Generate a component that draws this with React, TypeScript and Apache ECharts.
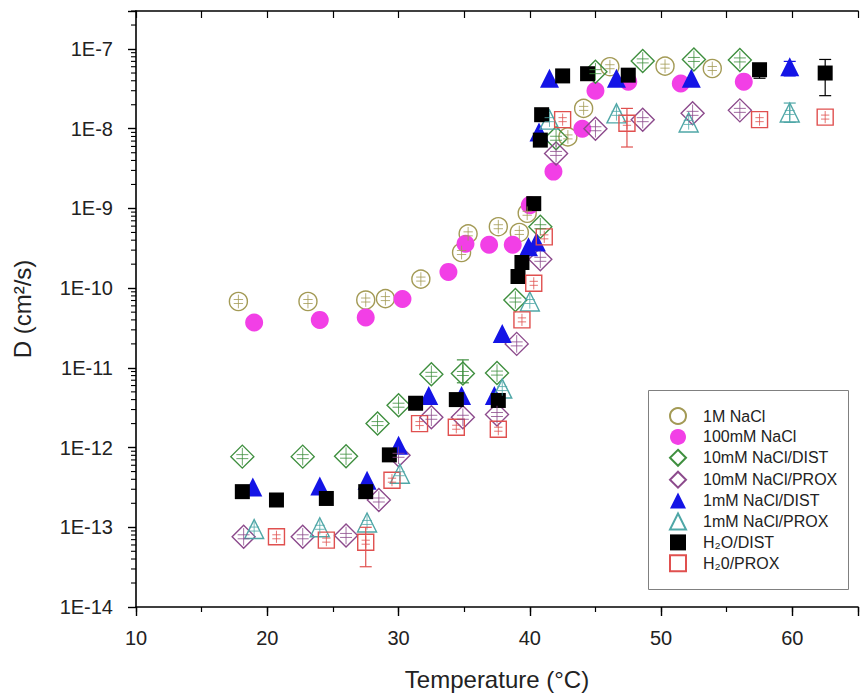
import React, { useEffect, useRef } from 'react';
import * as echarts from 'echarts';

// ---------- data ----------
const seriesNames = [
  '1M NaCl',
  '100mM NaCl',
  '10mM NaCl/DIST',
  '10mM NaCl/PROX',
  '1mM NaCl/DIST',
  '1mM NaCl/PROX',
  'H₂O/DIST',
  'H₂0/PROX',
];

const nacl1M: [number, number][] = [
  [17.8, 6.8e-11], [23.1, 6.8e-11], [27.5, 7.1e-11], [29.0, 7.4e-11], [31.7, 1.3e-10],
  [34.8, 2.8e-10], [35.3, 4.8e-10], [37.6, 5.9e-10], [39.2, 5.0e-10], [39.8, 8.7e-10],
  [42.9, 7.9e-9], [44.1, 1.8e-8], [46.1, 6.0e-8], [50.3, 6.1e-8], [53.9, 5.7e-8],
];
const nacl100mM: [number, number][] = [
  [19.0, 3.7e-11], [24.0, 4.0e-11], [27.5, 4.3e-11], [30.3, 7.3e-11], [33.8, 1.6e-10],
  [35.1, 3.6e-10], [36.9, 3.5e-10], [38.7, 3.5e-10], [40.0, 1.1e-9], [41.8, 2.9e-9],
  [44.0, 1.0e-8], [45.0, 3.0e-8], [47.5, 3.9e-8], [51.5, 3.7e-8], [56.3, 3.9e-8],
];
const nacl10mMDist: [number, number][] = [
  [18.1, 7.7e-13], [22.7, 7.7e-13], [26.0, 7.8e-13], [28.4, 2.0e-12], [30.0, 3.4e-12],
  [32.5, 8.3e-12], [34.9, 8.5e-12], [37.5, 8.6e-12], [38.9, 7.1e-11], [40.8, 5.9e-10],
  [42.0, 7.6e-9], [45.0, 5.2e-8], [48.6, 7.1e-8], [52.5, 7.4e-8], [56.0, 7.3e-8],
];
const nacl10mMProx: [number, number][] = [
  [18.2, 7.6e-14], [22.7, 7.6e-14], [26.0, 7.9e-14], [28.5, 2.2e-13], [30.0, 8.0e-13],
  [32.5, 2.4e-12], [34.9, 2.4e-12], [37.5, 2.6e-12], [39.0, 2.0e-11], [40.8, 2.3e-10],
  [42.0, 4.9e-9], [45.0, 1.0e-8], [48.6, 1.3e-8], [52.4, 1.56e-8], [56.0, 1.7e-8],
];
const nacl1mMDist: [number, number][] = [
  [18.9, 3.2e-13], [24.0, 3.3e-13], [27.6, 3.9e-13], [30.0, 1.07e-12], [32.3, 4.5e-12],
  [34.8, 4.5e-12], [37.3, 4.5e-12], [37.9, 2.7e-11], [39.9, 3.3e-10], [40.5, 3.8e-10],
  [40.7, 9.1e-9], [41.5, 4.3e-8], [46.6, 4.3e-8], [52.3, 4.3e-8], [59.8, 6.0e-8],
];
const nacl1mMProx: [number, number][] = [
  [19.0, 9.5e-14], [24.0, 1.0e-13], [27.6, 1.15e-13], [30.1, 4.7e-13], [37.9, 5.5e-12],
  [40.0, 6.8e-11], [41.5, 1.3e-8], [46.6, 1.56e-8], [52.1, 1.2e-8], [59.8, 1.6e-8],
];
const h2oDist: [number, number][] = [
  [18.1, 2.8e-13], [20.7, 2.2e-13], [24.5, 2.3e-13], [27.5, 2.8e-13], [29.3, 8.1e-13],
  [31.3, 3.6e-12], [34.4, 4.0e-12], [37.6, 3.9e-12], [39.1, 1.4e-10], [39.4, 2.1e-10],
  [40.3, 1.15e-9], [40.8, 7.2e-9], [40.9, 1.5e-8], [42.5, 4.6e-8], [44.4, 4.9e-8],
  [47.5, 4.7e-8], [57.5, 5.5e-8], [62.5, 5.0e-8],
];
const h2oProx: [number, number][] = [
  [20.7, 7.6e-14], [24.5, 6.9e-14], [27.5, 6.5e-14], [29.5, 3.9e-13], [31.6, 2.0e-12],
  [34.4, 1.8e-12], [37.6, 1.7e-12], [39.4, 4.0e-11], [40.3, 1.15e-10], [41.1, 4.4e-10],
  [42.5, 1.3e-8], [47.4, 1.17e-8], [57.5, 1.3e-8], [62.5, 1.4e-8],
];

// visible error bars: [temperature, low, high, series index]
const errorBars: [number, number, number, number][] = [
  [27.5, 3.2e-14, 1.0e-13, 7],
  [47.4, 5.9e-9, 1.8e-8, 7],
  [62.5, 2.6e-8, 7.4e-8, 6],
  [57.5, 4.3e-8, 6.5e-8, 6],
  [34.9, 6.5e-12, 1.26e-11, 2],
  [59.8, 1.2e-8, 2.1e-8, 5],
  [59.8, 4.6e-8, 7.0e-8, 4],
];

const xTickLabels = [10, 20, 30, 40, 50, 60];

// ---------- styles ----------
const allData = [nacl1M, nacl100mM, nacl10mMDist, nacl10mMProx, nacl1mMDist, nacl1mMProx, h2oDist, h2oProx];
const styles = [
  { symbol: 'circle', size: 18, color: '#a39a55', hollow: true },
  { symbol: 'circle', size: 18, color: '#f23fe6', hollow: false },
  { symbol: 'diamond', size: 23, color: '#3f8f3f', hollow: true },
  { symbol: 'diamond', size: 23, color: '#8c4a8c', hollow: true },
  { symbol: 'triangle', size: 19, color: '#1414e6', hollow: false },
  { symbol: 'triangle', size: 19, color: '#4fa7a7', hollow: true },
  { symbol: 'rect', size: 15, color: '#000000', hollow: false },
  { symbol: 'rect', size: 16, color: '#e0504f', hollow: true },
];

const FONT = '"Liberation Sans", Arial, sans-serif';

export default function App() {
  const ref = useRef<HTMLDivElement>(null);
  useEffect(() => {
    if (!ref.current) return;
    const chart = echarts.init(ref.current, undefined, { renderer: 'svg' });

    const scatterSeries = allData.map((d, i) => {
      const s = styles[i];
      return {
        type: 'scatter',
        name: seriesNames[i],
        data: d,
        symbol: s.symbol,
        symbolSize: s.size,
        z: 3,
        itemStyle: s.hollow
          ? { color: 'rgba(255,255,255,0)', borderColor: s.color, borderWidth: 1.4, opacity: 1 }
          : { color: s.color, borderColor: s.color, borderWidth: 0, opacity: 1 },
      };
    });

    const crossSeries = allData
      .map((d, i) => ({ d, i }))
      .filter(({ i }) => styles[i].hollow)
      .map(({ d, i }) => ({
        type: 'custom',
        name: 'cross-' + i,
        data: d,
        encode: { x: 0, y: 1 },
        z: 4,
        silent: true,
        renderItem: (_p: any, api: any) => {
          const p = api.coord([api.value(0), api.value(1)]);
          const h = styles[i].size * 0.38;
          const w = styles[i].size * 0.26;
          const st = { stroke: styles[i].color, lineWidth: 0.8 };
          return {
            type: 'group',
            children: [
              { type: 'line', shape: { x1: p[0], y1: p[1] - h, x2: p[0], y2: p[1] + h }, style: st },
              { type: 'line', shape: { x1: p[0] - w, y1: p[1] - 2, x2: p[0] + w, y2: p[1] - 2 }, style: st },
              { type: 'line', shape: { x1: p[0] - w, y1: p[1] + 2, x2: p[0] + w, y2: p[1] + 2 }, style: st },
            ],
          };
        },
      }));

    const errSeries = {
      type: 'custom',
      name: 'errorbars',
      data: errorBars,
      encode: { x: 0, y: [1, 2] },
      z: 5,
      silent: true,
      renderItem: (_p: any, api: any) => {
        const x = api.value(0);
        const lo = api.coord([x, api.value(1)]);
        const hi = api.coord([x, api.value(2)]);
        const c = styles[api.value(3)].color;
        const st = { stroke: c, lineWidth: 1.2 };
        return {
          type: 'group',
          children: [
            { type: 'line', shape: { x1: lo[0], y1: lo[1], x2: hi[0], y2: hi[1] }, style: st },
            { type: 'line', shape: { x1: lo[0] - 6, y1: lo[1], x2: lo[0] + 6, y2: lo[1] }, style: st },
            { type: 'line', shape: { x1: hi[0] - 6, y1: hi[1], x2: hi[0] + 6, y2: hi[1] }, style: st },
          ],
        };
      },
    };

    // log minor ticks on the left axis (2..9 x 10^k)
    const minorVals: [number, number][] = [];
    for (let k = -14; k <= -7; k++) {
      for (let m = 2; m <= 9; m++) {
        const v = m * Math.pow(10, k);
        if (v <= 3e-7) minorVals.push([10, v]);
      }
    }
    const minorTickSeries = {
      type: 'custom',
      name: 'minor-ticks',
      data: minorVals,
      encode: { x: 0, y: 1 },
      silent: true,
      z: 6,
      renderItem: (_p: any, api: any) => {
        const p = api.coord([api.value(0), api.value(1)]);
        return {
          type: 'line',
          shape: { x1: p[0] - 5, y1: p[1], x2: p[0], y2: p[1] },
          style: { stroke: '#000', lineWidth: 1.1 },
        };
      },
    };

    const axisLine = { show: true, onZero: false, lineStyle: { color: '#000', width: 1.6 } };

    chart.setOption({
      animation: false,
      backgroundColor: '#fff',
      grid: { left: 136, right: -11, top: 11, bottom: 90, containLabel: false },
      graphic: [
        {
          type: 'rect',
          left: 648,
          top: 390,
          shape: { width: 200, height: 199 },
          style: { fill: '#fff', stroke: '#808080', lineWidth: 1 },
          z: 5,
          silent: true,
        },
      ],
      xAxis: [
        {
          type: 'value', min: 10, max: 65, interval: 10, position: 'bottom',
          axisLine,
          axisTick: { show: true, inside: false, length: 9, lineStyle: { color: '#000', width: 1.4 } },
          axisLabel: {
            fontSize: 20, margin: 21, color: '#222', fontFamily: FONT,
            formatter: (v: number) => (xTickLabels.includes(v) ? String(v) : ''),
          },
          splitLine: { show: false },
          name: 'Temperature (°C)', nameLocation: 'middle', nameGap: 60,
          nameTextStyle: { fontSize: 24, color: '#222', fontFamily: FONT },
        },
        {
          type: 'value', min: 10, max: 65, interval: 5, position: 'bottom',
          axisLine: { show: false, onZero: false },
          axisTick: { show: true, inside: false, length: 5, lineStyle: { color: '#000', width: 1.2 } },
          axisLabel: { show: false }, splitLine: { show: false },
        },
        {
          type: 'value', min: 10, max: 65, interval: 5, position: 'top',
          axisLine,
          axisTick: { show: true, inside: true, length: 7, lineStyle: { color: '#000', width: 1.2 } },
          axisLabel: { show: false }, splitLine: { show: false },
        },
      ],
      yAxis: [
        {
          type: 'log', logBase: 10, min: 1e-14, max: 3e-7, position: 'left',
          axisLine,
          axisTick: { show: true, inside: false, length: 8, lineStyle: { color: '#000', width: 1.4 } },
          axisLabel: {
            fontSize: 20, margin: 23, color: '#222', fontFamily: FONT,
            formatter: (v: number) => {
              const e = Math.log10(v);
              const r = Math.round(e);
              return Math.abs(e - r) < 1e-6 ? '1E' + r : '';
            },
          },
          splitLine: { show: false },
          minorTick: { show: false },
          name: 'D (cm²/s)', nameLocation: 'middle', nameGap: 102,
          nameTextStyle: { fontSize: 24, color: '#222', fontFamily: FONT },
        },
      ],
      legend: {
        data: seriesNames,
        orient: 'vertical',
        left: 648,
        top: 390,
        itemWidth: 16,
        itemHeight: 16,
        itemGap: 3.9,
        padding: [17, 2, 17, 21],
        borderWidth: 0,
        backgroundColor: 'transparent',
        selectedMode: false,
        z: 10,
        textStyle: { fontSize: 16, color: '#222', fontFamily: FONT, padding: [0, 0, 0, 12] },
      },
      series: [minorTickSeries, ...scatterSeries, ...crossSeries, errSeries],
    });

    return () => chart.dispose();
  }, []);

  return (
    <div
      ref={ref}
      style={{ position: 'absolute', left: 0, top: 0, width: 861, height: 697 }}
    />
  );
}
